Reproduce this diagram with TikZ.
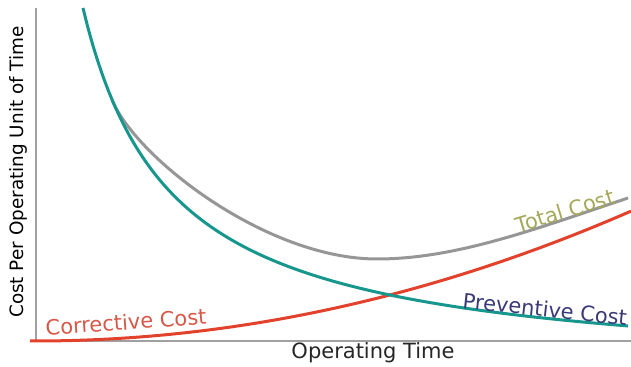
\documentclass[tikz,border=0pt]{standalone}
\usepackage{fontspec}
\setmainfont{DejaVu Sans}
\definecolor{prevteal}{RGB}{22,150,140}
\definecolor{corrred}{RGB}{226,66,44}
\definecolor{totgray}{RGB}{150,150,150}
\definecolor{axisgray}{RGB}{160,160,160}
\definecolor{corrtext}{RGB}{214,88,72}
\definecolor{prevtext}{RGB}{58,58,120}
\definecolor{tottext}{RGB}{165,168,88}

\begin{document}
\begin{tikzpicture}[x=0.5pt, y=-0.5pt,
    curve/.style={line width=1.5pt, smooth, samples=150},
    lbl/.style={font=\fontsize{10.5}{12}\selectfont, inner sep=0pt}]
    \useasboundingbox (0,0) rectangle (631,367);
    % Draw the axes
    \coordinate (origin) at (36,341);
    \coordinate (ytop) at (36,8);
    \coordinate (xend) at (631,341);
    \draw[axisgray, line width=0.7pt] (ytop) -- (origin) -- (xend);
    % Draw the axis labels
    \node[lbl, font=\fontsize{9.2}{11}\selectfont, rotate=90] (ylabel) at (18,172) {Cost Per Operating Unit of Time};
    \node[lbl, text=black!85] (xlabel) at (373,353) {Operating Time};
    % Draw the cost curves
    \coordinate (totstart) at (112,100);
    \coordinate (totmin) at (377,259);
    \coordinate (totend) at (628,198);
    \draw[curve, totgray] (totstart) .. controls (137,159) and (267,259) .. (totmin)
      .. controls (457,259) and (538,228) .. (totend);
    \draw[curve, corrred, domain=30:631]
      plot (\x, {341 - ((\x-35)/52.3)^2});
    \draw[curve, prevteal, domain=83:628]
      plot (\x, {341 - (325.02/((\x+5)/100) - 36.3)});
    % Draw the curve labels
    \node[lbl, text=corrtext, rotate=4] (corrective) at (126,322) {Corrective Cost};
    \node[lbl, text=prevtext, rotate=-6] (preventive) at (545,309) {Preventive Cost};
    \node[lbl, text=tottext, rotate=17] (total) at (565,211) {Total Cost};
\end{tikzpicture}
\end{document}
